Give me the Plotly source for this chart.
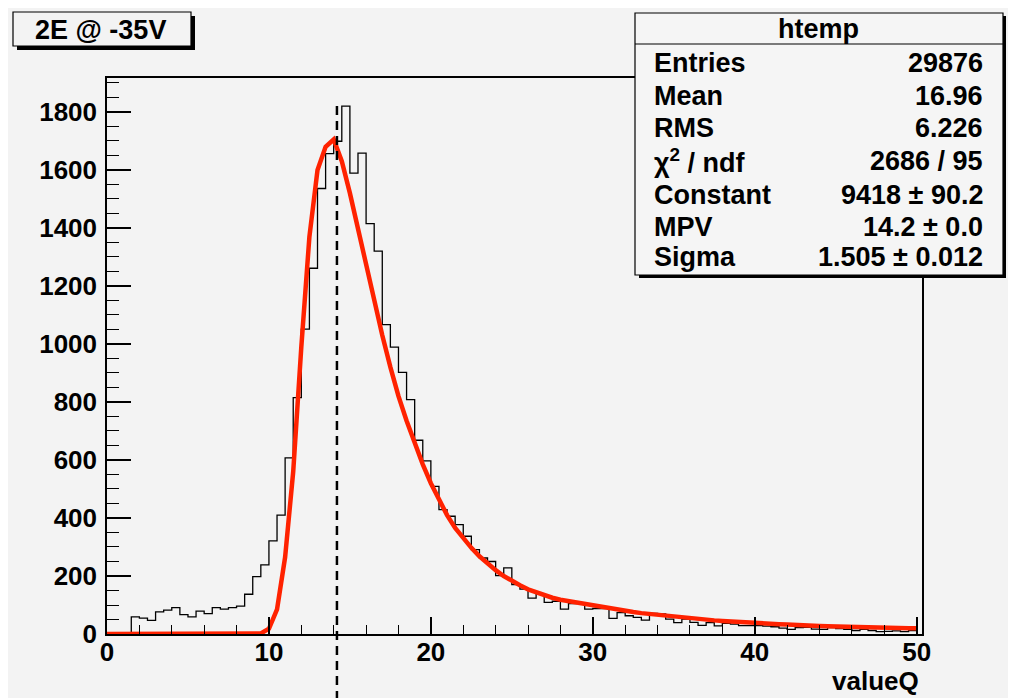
import plotly.graph_objects as go

# ---------------- data ----------------
bin_width = 0.5
bin_left_edges = [i * 0.5 for i in range(100)]
counts = [
    0, 0, 0, 59, 55, 47, 76, 82, 91, 67,
    59, 79, 70, 91, 86, 91, 96, 137, 198, 238,
    321, 410, 607, 815, 1051, 1261, 1536, 1656, 1699, 1820,
    1589, 1658, 1415, 1320, 1067, 989, 902, 808, 668, 597,
    509, 429, 406, 377, 337, 291, 262, 250, 201, 228,
    170, 155, 124, 139, 109, 113, 86, 105, 107, 86,
    88, 88, 54, 74, 63, 57, 48, 71, 69, 51,
    39, 51, 40, 30, 39, 28, 37, 34, 29, 29,
    29, 27, 25, 20, 16, 22, 23, 17, 16, 22,
    19, 16, 12, 16, 12, 8, 9, 11, 8, 12,
]

fit_x = [i * 0.5 for i in range(101)]
fit_y = [
    0, 0, 0, 0, 0, 0, 0, 0, 0, 0,
    0, 0, 0, 0, 0, 0, 0, 0, 0, 2,
    18, 85, 265, 560, 990, 1370, 1600, 1680, 1705, 1630,
    1520, 1395, 1265, 1145, 1030, 920, 820, 735, 658, 585,
    520, 462, 410, 366, 330, 297, 268, 243, 220, 200,
    182, 168, 154, 143, 133, 125, 118, 113, 108, 103,
    99, 94, 89, 85, 80, 76, 72, 69, 65, 62,
    59, 57, 54, 52, 49, 47, 45, 43, 42, 40,
    38, 37, 35, 34, 33, 31, 30, 29, 28, 27,
    26, 26, 25, 24, 23, 23, 22, 21, 21, 20,
    20,
]
mpv = 14.2

title_text = "2E @ -35V"
x_title = "valueQ"
stat_title = "htemp"
stat_labels = ["Entries", "Mean", "RMS", "χ<sup>2</sup> / ndf", "Constant", "MPV", "Sigma"]
stat_values = ["29876", "16.96", "6.226", "2686 / 95", "9418 ± 90.2", "14.2 ± 0.0", "1.505 ± 0.012"]

x_ticks = [0, 10, 20, 30, 40, 50]
y_ticks = [0, 200, 400, 600, 800, 1000, 1200, 1400, 1600, 1800]

# ---------------- layout geometry (page pixels; figure sits at page offset 8,8) ----------------
OFF = 8
W, H = 1002, 690
PL, PR, PT, PB = 107, 922, 78, 634          # plot frame in page pixels
L, T = PL - OFF, PT - OFF
R = W - (PR - OFF)
B = H - (PB - OFF)
PW, PH = PR - PL, PB - PT


def px(x):
    return (x - PL) / PW


def py(y):
    return (PB - y) / PH


FONT = "Liberation Sans, Arial, Helvetica, sans-serif"
BG = "#f3f3f3"

# step outline of histogram
hx = bin_left_edges + [bin_left_edges[-1] + bin_width]
hy = counts + [counts[-1]]

fig = go.Figure()
fig.add_trace(go.Scatter(x=hx, y=hy, mode="lines", line=dict(color="black", width=1.3, shape="hv"),
                         hoverinfo="skip", showlegend=False))
fig.add_trace(go.Scatter(x=fit_x, y=fit_y, mode="lines", line=dict(color="#ff2200", width=4.5),
                         hoverinfo="skip", showlegend=False))

shapes = []
# dashed MPV line
shapes.append(dict(type="line", xref="x", yref="paper", x0=mpv, x1=mpv, y0=py(700), y1=py(103),
                   line=dict(color="black", width=2.5, dash="9px,6px")))
# title box shadow + box
shapes.append(dict(type="rect", xref="paper", yref="paper", x0=px(17), x1=px(195), y0=py(50), y1=py(16),
                   fillcolor="black", line=dict(width=0)))
shapes.append(dict(type="rect", xref="paper", yref="paper", x0=px(13), x1=px(191), y0=py(46), y1=py(12),
                   fillcolor=BG, line=dict(color="black", width=1.2)))
# stat box shadow + box
shapes.append(dict(type="rect", xref="paper", yref="paper", x0=px(639), x1=px(1006), y0=py(278), y1=py(16),
                   fillcolor="black", line=dict(width=0)))
shapes.append(dict(type="rect", xref="paper", yref="paper", x0=px(635), x1=px(1003), y0=py(275), y1=py(13),
                   fillcolor="#f5f5f5", line=dict(color="black", width=1.2)))
shapes.append(dict(type="line", xref="paper", yref="paper", x0=px(635), x1=px(1003), y0=py(44), y1=py(44),
                   line=dict(color="black", width=1.2)))

FS = 27
annotations = []
annotations.append(dict(text=title_text, xref="paper", yref="paper", x=px(100), y=py(30),
                        xanchor="center", yanchor="middle", showarrow=False,
                        font=dict(family=FONT, size=FS, color="black", weight="bold")))
annotations.append(dict(text=stat_title, xref="paper", yref="paper", x=px(818), y=py(29),
                        xanchor="center", yanchor="middle", showarrow=False,
                        font=dict(family=FONT, size=FS, color="black", weight="bold")))
row_y = [63, 96, 128, 161, 195, 227, 257]
for lab, val, ry in zip(stat_labels, stat_values, row_y):
    annotations.append(dict(text=lab, xref="paper", yref="paper", x=px(652), y=py(ry),
                            xanchor="left", yanchor="middle", showarrow=False,
                            font=dict(family=FONT, size=FS, color="black", weight="bold")))
    annotations.append(dict(text=val, xref="paper", yref="paper", x=px(985), y=py(ry),
                            xanchor="right", yanchor="middle", showarrow=False,
                            font=dict(family=FONT, size=FS, color="black", weight="bold")))
annotations.append(dict(text=x_title, xref="paper", yref="paper", x=px(921), y=py(681),
                        xanchor="right", yanchor="middle", showarrow=False,
                        font=dict(family=FONT, size=26, color="black", weight="bold")))

tickfont = dict(family=FONT, size=26, color="black", weight="bold")

fig.update_layout(
    width=W, height=H,
    margin=dict(l=L, r=R, t=T, b=B, pad=0),
    paper_bgcolor=BG,
    plot_bgcolor=BG,
    shapes=shapes,
    annotations=annotations,
    showlegend=False,
    xaxis=dict(range=[0, 50.33], tickvals=x_ticks, ticks="inside", ticklen=17, tickwidth=1.5,
               tickcolor="black", showgrid=False, zeroline=False, showline=True, linewidth=1.5,
               linecolor="black", mirror=True, tickfont=tickfont, ticklabelstandoff=-6,
               minor=dict(dtick=2, tick0=0, ticks="inside", ticklen=9, tickwidth=1.2, tickcolor="black",
                          showgrid=False)),
    yaxis=dict(range=[0, 1917], tickvals=y_ticks, ticks="inside", ticklen=24, tickwidth=1.5,
               tickcolor="black", showgrid=False, zeroline=False, showline=True, linewidth=1.5,
               linecolor="black", mirror=True, tickfont=tickfont, ticklabelstandoff=3,
               minor=dict(dtick=50, tick0=0, ticks="inside", ticklen=12, tickwidth=1.2, tickcolor="black",
                          showgrid=False)),
)

fig.write_html("out.html")
